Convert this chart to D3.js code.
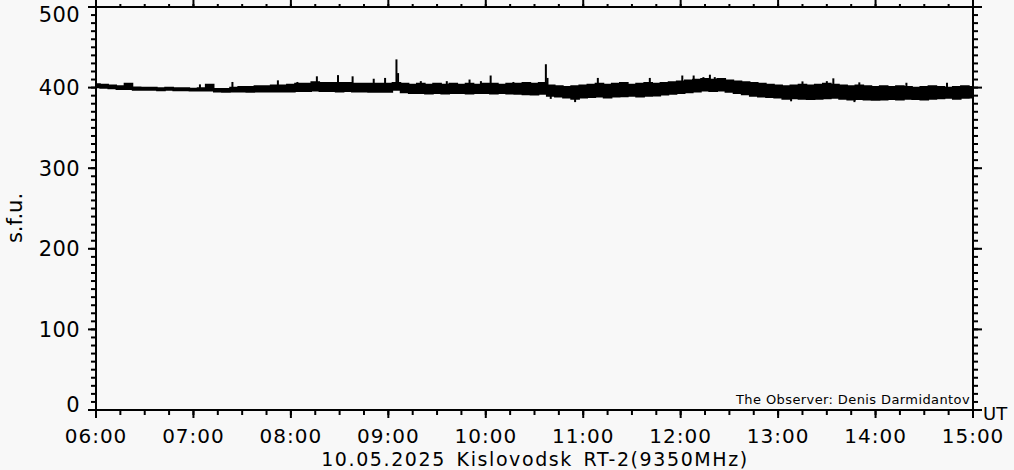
<!DOCTYPE html>
<html>
<head>
<meta charset="utf-8">
<script src="https://cdn.jsdelivr.net/npm/d3@7"></script>
<style>
html,body{margin:0;padding:0;background:#f8f8f8;}
svg{display:block;}
text{font-family:"DejaVu Sans",sans-serif;fill:#000;}
</style>
</head>
<body>
<svg id="chart" width="1014" height="470"></svg>
<script>
// ---- data ----
const dateStr = "2025-05-10";
const startTime = "06:00";
const endTime = "15:00";
const sampleStepMin = 5; // samples every 5 minutes from 06:00
// upper envelope of the flux band (s.f.u.)
const bandHigh = [404.5,404,403,402,405,400.5,400,400,399.5,400,399.5,399.5,399,399.5,404,398.5,398.5,400,401,401,
  402,402,403,403,404,405,405,407,406,406,406,406,405,405,405,405,405,406,405,404,
  405,404,405,404,405,404,405,404,405,405,404,405,405,406,405,406,403,402,401,402,
  403,404,405,404,405,406,404,405,406,405,406,407,408,409,410,411,410,411,409,408,
  407,406,405,404,403,402,403,404,403,404,405,404,403,402,403,402,401,402,401,402,
  401,400,401,402,401,400,401,402,401];
// lower envelope of the flux band (s.f.u.)
const bandLow = [400,399.5,399,398,398,397,397,397,396.5,397,396.5,396.5,396,396,396,395,394.5,395,395,394.5,
  395,395,395,395,395,395.5,395.5,396,395.5,395.5,395,395.5,395,395,394.5,394.5,394.5,397,394,393,
  393,392.5,393,392.5,393,393,392.5,393,393,392.5,393,392.5,392,391.5,391,392,389.5,388.5,387.5,386,
  387.5,388,388.5,387.5,388.5,389,389.5,388.5,389.5,390,391,392,393,394,395,396,395.5,396,394.5,393,
  391.5,389.5,388.5,388,387.5,386,386.5,386,385.5,386,386.5,387,386,385,385.5,385,384.5,385,385.5,385,
  386,385.5,385,386,386.5,387,386,387,387.5];
// short bursts / spikes [time, s.f.u.]
const spikeTimes = ["06:18","07:04","07:24","07:52","08:04","08:16","08:29","08:38","08:51","08:58","09:05","09:06","09:20","09:36","09:50","09:57","10:03","10:17","10:37","10:38",
  "11:09","11:41","12:01","12:08","12:14","12:18","12:21","13:15","13:30","13:34","13:50","14:19","14:44"];
const spikeValues = [405,404,407,409,407,414,415.5,414,411,412,435,418,408,408,410,408,415,407,429,412,
  412,412,415,415,413,416,413,407.7,408,411.5,406.5,406,406];
// downward dips [time, s.f.u.]
const dipTimes = ["10:40","10:55","13:08","13:47"];
const dipValues = [386,382,383,382];
const yTicks = [0,100,200,300,400,500];
const xTickLabels = ["06:00","07:00","08:00","09:00","10:00","11:00","12:00","13:00","14:00","15:00"];
const yLabel = "s.f.u.";
const xUnit = "UT";
const title = "10.05.2025 Kislovodsk RT-2(9350MHz)";
const observer = "The Observer: Denis Darmidantov";

// ---- build ----
const parse = d3.utcParse("%Y-%m-%d %H:%M");
const T = s => parse(dateStr + " " + s);
const t0 = T(startTime);
const band = bandHigh.map((h,i)=>({t:d3.utcMinute.offset(t0, i*sampleStepMin), hi:h, lo:bandLow[i]}));
const spikes = spikeTimes.map((s,i)=>({t:T(s), v:spikeValues[i]}));
const dips = dipTimes.map((s,i)=>({t:T(s), v:dipValues[i]}));

const svg = d3.select("#chart");
const L = 96, R = 973, TOP = 7, BOT = 410;
const x = d3.scaleUtc().domain([T(startTime), T(endTime)]).range([L, R]);
const y = d3.scaleLinear().domain([0, 500]).range([BOT, TOP]);

// band
const area = d3.area().x(d=>x(d.t)).y0(d=>y(d.lo)).y1(d=>y(d.hi)).curve(d3.curveStep);
svg.append("path").datum(band).attr("d", area).attr("fill","#000").attr("stroke","#000").attr("stroke-width",1.5);

const bisect = d3.bisector(d=>d.t).center;
svg.append("g").selectAll("line").data(spikes).join("line")
  .attr("x1", d=>x(d.t)).attr("x2", d=>x(d.t))
  .attr("y1", d=>y(band[bisect(band,d.t)].lo + 3)).attr("y2", d=>y(d.v))
  .attr("stroke","#000").attr("stroke-width",2);
svg.append("g").selectAll("line").data(dips).join("line")
  .attr("x1", d=>x(d.t)).attr("x2", d=>x(d.t))
  .attr("y1", d=>y(band[bisect(band,d.t)].hi - 3)).attr("y2", d=>y(d.v))
  .attr("stroke","#000").attr("stroke-width",2);

function styleAxis(g){
  g.selectAll(".domain").attr("stroke","#000").attr("stroke-width",2);
  g.selectAll(".tick line").attr("stroke","#000").attr("stroke-width",2);
}
const minor15 = d3.utcMinute.every(15);
const hour = d3.utcHour.every(1);
const tenUnits = d3.range(0, 501, 10);

// bottom
svg.append("g").attr("transform",`translate(0,${BOT})`)
  .call(d3.axisBottom(x).ticks(minor15).tickSize(5).tickSizeOuter(0).tickFormat("").offset(0)).call(styleAxis);
const gb = svg.append("g").attr("transform",`translate(0,${BOT})`)
  .call(d3.axisBottom(x).ticks(hour).tickSize(8).tickSizeOuter(0).tickFormat((d,i)=>xTickLabels[i]).offset(0)).call(styleAxis);
gb.selectAll(".tick text").attr("y",33).attr("dy",null).attr("font-size",20).attr("letter-spacing",1).attr("font-family",'"DejaVu Sans",sans-serif');
// top
svg.append("g").attr("transform",`translate(0,${TOP})`)
  .call(d3.axisTop(x).ticks(minor15).tickSize(3).tickSizeOuter(0).tickFormat("").offset(0)).call(styleAxis);
svg.append("g").attr("transform",`translate(0,${TOP})`)
  .call(d3.axisTop(x).ticks(hour).tickSize(7).tickSizeOuter(0).tickFormat("").offset(0)).call(styleAxis);
// left
svg.append("g").attr("transform",`translate(${L},0)`)
  .call(d3.axisLeft(y).tickValues(tenUnits).tickSize(5).tickSizeOuter(0).tickFormat("").offset(0)).call(styleAxis);
const gl = svg.append("g").attr("transform",`translate(${L},0)`)
  .call(d3.axisLeft(y).tickValues(yTicks).tickSize(8).tickSizeOuter(0).offset(0)).call(styleAxis);
gl.selectAll(".tick text").attr("x",-16).attr("dy",d=> d===500? "0.72em" : d===0 ? "0.1em" : "0.36em")
  .attr("font-size",21).attr("letter-spacing",0.4).attr("font-family",'"DejaVu Sans",sans-serif');
// right
svg.append("g").attr("transform",`translate(${R},0)`)
  .call(d3.axisRight(y).tickValues(tenUnits).tickSize(5).tickSizeOuter(0).tickFormat("").offset(0)).call(styleAxis);
svg.append("g").attr("transform",`translate(${R},0)`)
  .call(d3.axisRight(y).tickValues(yTicks).tickSize(9).tickSizeOuter(0).tickFormat("").offset(0)).call(styleAxis);

// texts
svg.append("text").attr("transform","translate(22,218) rotate(-90)").attr("text-anchor","middle").attr("font-size",21).text(yLabel);
svg.append("text").attr("x",983).attr("y",419.5).attr("font-size",18).text(xUnit);
svg.append("text").attr("x",535).attr("y",465.5).attr("text-anchor","middle").attr("font-size",19).attr("letter-spacing",1.6).attr("word-spacing",3).text(title);
svg.append("text").attr("x",970).attr("y",404).attr("text-anchor","end").attr("font-size",13).attr("letter-spacing",0.4).text(observer);
</script>
</body>
</html>
